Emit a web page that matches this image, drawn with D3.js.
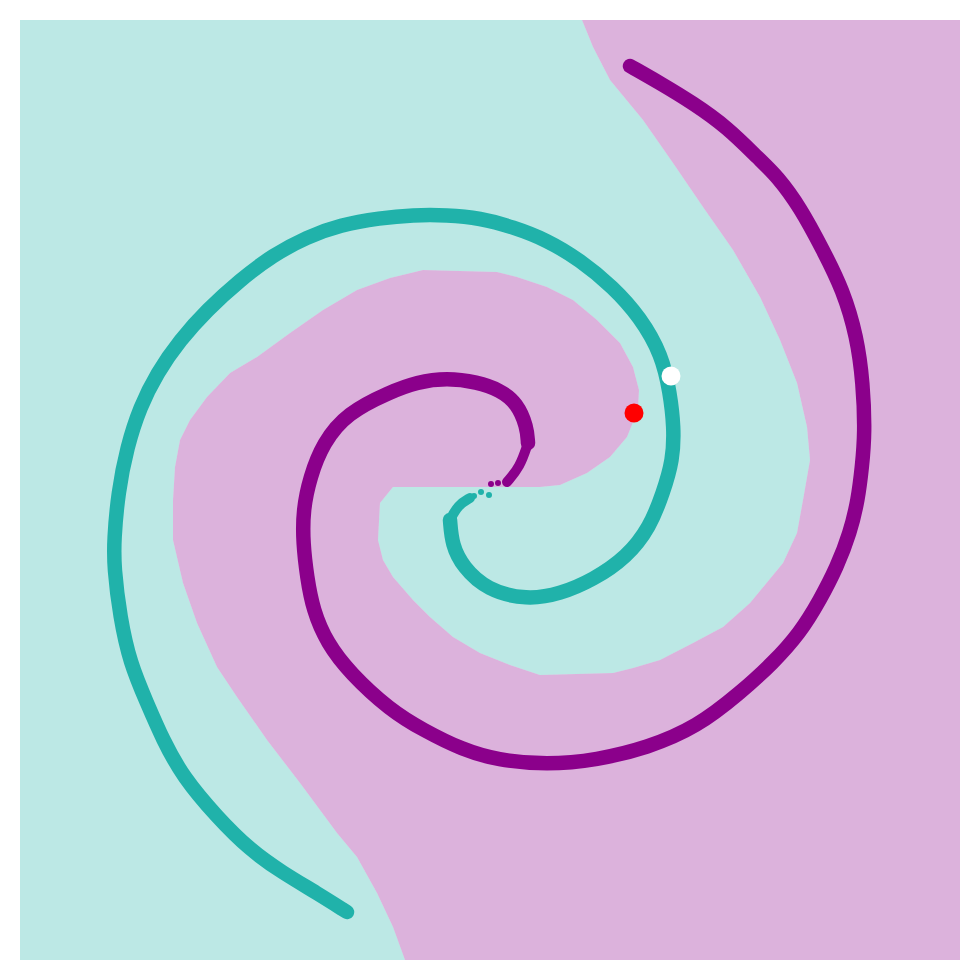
<!DOCTYPE html>
<html>
<head>
<meta charset="utf-8">
<script src="https://cdn.jsdelivr.net/npm/d3@7"></script>
<style>
  html, body { margin: 0; padding: 0; background: #ffffff; }
  svg { display: block; }
</style>
</head>
<body>
<div id="chart"></div>
<script>
// ---- Data (data units, centre = 0,0) ----
const classNames = ["class A", "class B"];
const classColors = ["#20b2aa", "#8b008b"];

// Spiral of class A (teal), from the centre outward
const tealSpiral = [
  [-2.0,-0.8],[-3.2,-1.5],[-4.0,-3.0],[-3.8,-5.5],[-2.7,-7.7],[-0.3,-10.0],
  [3.7,-11.0],[7.0,-10.4],[10.3,-9.0],[13.7,-6.7],[16.0,-3.7],[17.3,-0.3],
  [18.3,3.0],[18.4,6.3],[18.0,9.7],[17.2,13.5],[15.0,17.3],[12.3,20.3],
  [9.0,23.0],[5.7,25.0],[2.3,26.3],[-1.0,27.2],[-4.3,27.5],[-7.7,27.5],
  [-11.0,27.2],[-15.0,26.5],[-18.3,25.3],[-21.7,23.5],[-25.0,21.0],[-28.3,18.0],
  [-31.0,15.0],[-33.3,11.7],[-35.0,8.3],[-36.3,4.3],[-37.2,-0.3],[-37.6,-5.0],
  [-37.6,-7.7],[-37.0,-12.7],[-36.0,-17.3],[-34.3,-21.3],[-32.7,-25.0],
  [-30.7,-28.7],[-27.3,-32.7],[-24.0,-36.0],[-20.7,-38.3],[-17.3,-40.3],[-14.3,-42.2]
];
const tealTips = [[-0.1,-0.5],[-0.9,-0.2],[-1.6,-0.6]];

// Spiral of class B (purple), from the centre outward
const purpleSpiral = [
  [1.7,0.8],[3.0,2.3],[3.8,4.7],[3.7,6.3],[2.7,8.7],[1.0,10.0],[-1.3,10.8],
  [-4.3,11.2],[-7.3,10.8],[-10.0,9.8],[-14.3,7.7],[-16.7,4.7],[-18.0,1.3],
  [-18.7,-2.0],[-18.7,-5.3],[-18.3,-8.7],[-17.7,-12.0],[-16.3,-15.3],[-14.0,-18.3],
  [-10.0,-22.0],[-6.7,-24.0],[-2.7,-26.0],[0.7,-27.0],[5.7,-27.5],[10.7,-27.0],
  [15.7,-25.8],[20.7,-23.7],[25.0,-20.3],[28.3,-17.3],[31.0,-14.3],[33.0,-11.0],
  [34.7,-7.7],[36.0,-4.3],[36.8,-1.0],[37.2,2.3],[37.5,5.7],[37.3,10.7],
  [36.7,15.3],[35.3,20.0],[33.3,24.0],[31.0,28.3],[28.7,31.4],[27.0,33.0],
  [23.7,36.3],[20.3,38.7],[17.0,40.7],[14.0,42.4]
];
const purpleTips = [[0.1,0.6],[0.8,0.7]];

// Region predicted as class B (purple); the rest of the plane is class A
const purpleRegion = [
  [9.2,47],[47,47],[47,-47],[-8.5,-47],[-9.7,-43.7],[-11.3,-40.3],[-13.3,-36.7],
  [-15.3,-34.3],[-19.0,-29.3],[-22.3,-25.0],[-25.3,-20.7],[-27.3,-17.7],[-29.3,-13.3],
  [-30.7,-9.3],[-31.7,-5.0],[-31.7,-1.0],[-31.5,2.3],[-31.0,5.0],[-30.0,7.0],
  [-28.3,9.3],[-26.0,11.7],[-23.3,13.3],[-20.0,15.7],[-16.7,18.0],[-13.3,20.0],
  [-10.0,21.2],[-6.7,22.0],[0.7,21.8],[2.7,21.3],[5.7,20.3],[8.3,19.0],[10.7,17.0],
  [13.0,14.7],[14.3,12.3],[14.9,10.0],[14.8,8.0],[13.7,5.3],[12.0,3.3],[9.7,1.7],
  [7.0,0.5],[5.0,0.3],[-9.7,0.3],[-11.0,-1.3],[-11.2,-5.0],[-10.7,-7.0],[-9.7,-8.7],
  [-7.7,-11.0],[-6.0,-12.7],[-3.7,-14.7],[-1.0,-16.3],[2.0,-17.5],[5.0,-18.5],
  [12.3,-18.3],[14.3,-17.8],[17.0,-17.0],[20.3,-15.3],[23.3,-13.7],[26.0,-11.3],
  [29.3,-7.3],[30.7,-4.3],[31.3,-1.0],[32.0,3.0],[31.7,6.3],[30.7,10.7],[29.0,15.0],
  [27.0,19.3],[24.3,24.0],[21.3,28.3],[18.3,32.7],[15.3,37.0],[12.0,41.0],[10.3,44.3]
];

// Two highlighted points
const markers = [
  { name: "query", x: 14.4, y: 7.7, color: "#ff0000" },
  { name: "neighbour", x: 18.1, y: 11.4, color: "#ffffff" }
];

const xDomain = [-47, 47];
const yDomain = [-47, 47];

// ---- Drawing ----
const W = 980, H = 980;
const margin = { top: 20, right: 20, bottom: 20, left: 20 };

const svg = d3.select("#chart").append("svg")
  .attr("width", W).attr("height", H);

svg.append("rect").attr("width", W).attr("height", H).attr("fill", "#ffffff");

const x = d3.scaleLinear().domain(xDomain).range([margin.left, W - margin.right]);
const y = d3.scaleLinear().domain(yDomain).range([H - margin.bottom, margin.top]);

svg.append("clipPath").attr("id", "plotclip")
  .append("rect")
  .attr("x", margin.left).attr("y", margin.top)
  .attr("width", W - margin.left - margin.right)
  .attr("height", H - margin.top - margin.bottom);

const g = svg.append("g").attr("clip-path", "url(#plotclip)");

// background: class A region
g.append("rect")
  .attr("x", x(xDomain[0])).attr("y", y(yDomain[1]))
  .attr("width", x(xDomain[1]) - x(xDomain[0]))
  .attr("height", y(yDomain[0]) - y(yDomain[1]))
  .attr("fill", classColors[0]).attr("fill-opacity", 0.3);

// class B region
const regionLine = d3.line().x(d => x(d[0])).y(d => y(d[1]));
g.append("path")
  .attr("d", regionLine(purpleRegion) + "Z")
  .attr("fill", "#ffffff");
g.append("path")
  .attr("d", regionLine(purpleRegion) + "Z")
  .attr("fill", classColors[1]).attr("fill-opacity", 0.3);

// spirals
const spiralLine = d3.line().x(d => x(d[0])).y(d => y(d[1]))
  .curve(d3.curveBasis);

function drawSpiral(points, tips, color) {
  g.append("path")
    .attr("d", spiralLine(points.slice(0, 3)))
    .attr("fill", "none").attr("stroke", color)
    .attr("stroke-width", 10).attr("stroke-linecap", "round");
  g.append("path")
    .attr("d", spiralLine(points.slice(2)))
    .attr("fill", "none").attr("stroke", color)
    .attr("stroke-width", 14.5).attr("stroke-linecap", "round")
    .attr("stroke-linejoin", "round");
  g.selectAll(null).data(tips).enter().append("circle")
    .attr("cx", d => x(d[0])).attr("cy", d => y(d[1]))
    .attr("r", 3).attr("fill", color);
}
drawSpiral(tealSpiral, tealTips, classColors[0]);
drawSpiral(purpleSpiral, purpleTips, classColors[1]);

// markers
g.selectAll(".marker").data(markers).enter().append("circle")
  .attr("class", "marker")
  .attr("cx", d => x(d.x)).attr("cy", d => y(d.y))
  .attr("r", 9.5).attr("fill", d => d.color);
</script>
</body>
</html>
